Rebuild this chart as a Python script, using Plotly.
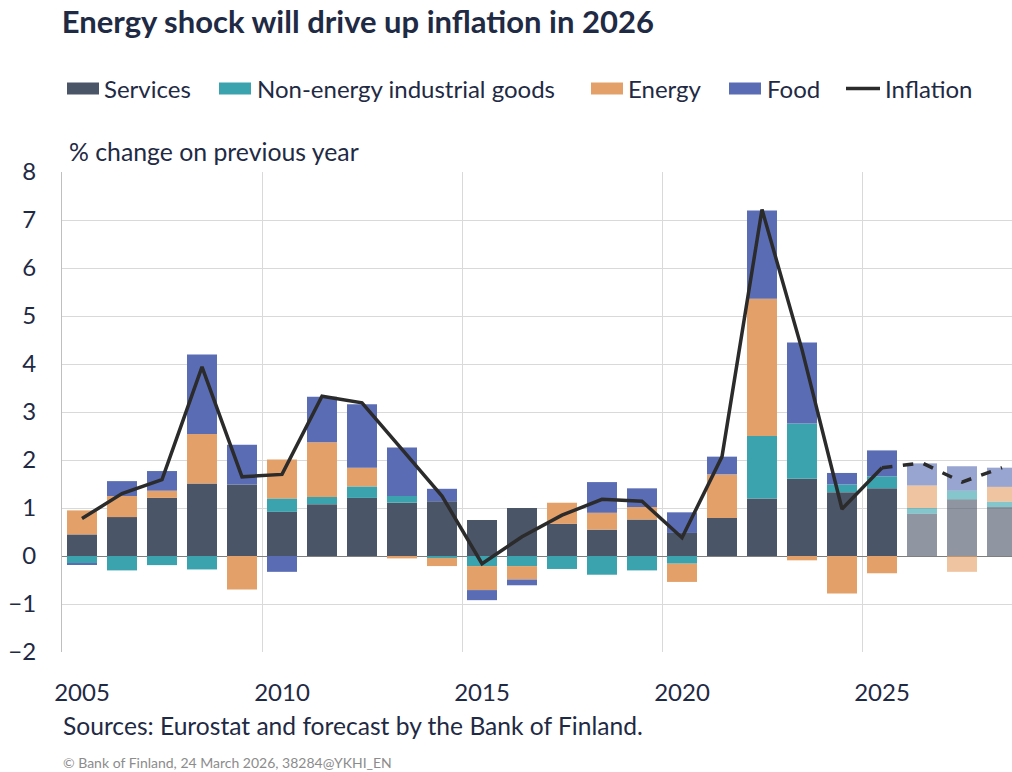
import plotly.graph_objects as go

years = list(range(2005, 2029))
services = [0.45, 0.81, 1.21, 1.51, 1.49, 0.92, 1.08, 1.21, 1.11, 1.14, 0.75, 1.00,
            0.67, 0.55, 0.76, 0.48, 0.79, 1.20, 1.61, 1.33, 1.41, 0.88, 1.18, 1.02]
non_energy = [-0.15, -0.30, -0.19, -0.28, 0.0, 0.28, 0.15, 0.24, 0.14, -0.04, -0.21, -0.21,
              -0.27, -0.39, -0.30, -0.16, 0.0, 1.30, 1.15, 0.16, 0.25, 0.12, 0.18, 0.11]
energy = [0.50, 0.44, 0.15, 1.03, -0.70, 0.81, 1.14, 0.39, -0.05, -0.17, -0.50, -0.28,
          0.44, 0.35, 0.26, -0.38, 0.91, 2.86, -0.09, -0.78, -0.36, 0.47, -0.33, 0.31]
food = [-0.03, 0.31, 0.41, 1.66, 0.83, -0.33, 0.95, 1.32, 1.01, 0.26, -0.21, -0.12,
        0.0, 0.64, 0.39, 0.43, 0.37, 1.84, 1.69, 0.24, 0.54, 0.46, 0.51, 0.40]
inflation = [0.78, 1.30, 1.59, 3.94, 1.65, 1.70, 3.33, 3.19, 2.22, 1.25, -0.16, 0.40,
             0.85, 1.18, 1.14, 0.38, 2.07, 7.22, 4.30, 0.98, 1.84, 1.94, 1.54, 1.84]
forecast_start = 2026

FONT = "Lato"
TXT = "#1F2A44"
LINE_COL = "#2B2B2B"
opac = [0.62 if y >= forecast_start else 1.0 for y in years]

series = [
    ("Services", services, "#4B5568"),
    ("Non-energy industrial goods", non_energy, "#3AA3AE"),
    ("Energy", energy, "#E3A068"),
    ("Food", food, "#5A6DB4"),
]

# plot area geometry (px) used to place the hand-drawn legend
W, H = 1012, 772
L, R, T, B = 62, 0, 172, 120
PW, PH = W - L - R, H - T - B


def px_x(px):
    return (px - L) / PW


def px_y(py):
    return (H - B - py) / PH


fig = go.Figure()
for name, vals, col in series:
    fig.add_trace(go.Bar(x=years, y=vals, name=name, width=0.75, showlegend=False,
                         marker=dict(color=col, opacity=opac, line=dict(width=0))))

hist_x = [y for y in years if y <= 2025]
hist_y = [v for y, v in zip(years, inflation) if y <= 2025]
fc_x = [y for y in years if y >= 2025]
fc_y = [v for y, v in zip(years, inflation) if y >= 2025]
fig.add_trace(go.Scatter(x=hist_x, y=hist_y, mode="lines", name="Inflation", showlegend=False,
                         line=dict(color=LINE_COL, width=3.5)))
fig.add_trace(go.Scatter(x=fc_x, y=fc_y, mode="lines", showlegend=False,
                         line=dict(color=LINE_COL, width=3.5, dash="dash")))

# legend (swatches + labels)
legend_items = [
    ("Services", "#4B5568", 67, 102),
    ("Non-energy industrial goods", "#3AA3AE", 219, 255),
    ("Energy", "#E3A068", 591, 626),
    ("Food", "#5A6DB4", 729, 765),
]
shapes = []
annotations = []
LY = 88.5
for name, col, sx, tx in legend_items:
    shapes.append(dict(type="rect", xref="paper", yref="paper",
                       x0=px_x(sx), x1=px_x(sx + 32), y0=px_y(LY + 6), y1=px_y(LY - 6),
                       fillcolor=col, line=dict(width=0)))
    annotations.append(dict(text=name, xref="paper", yref="paper", x=px_x(tx), y=px_y(LY),
                            xanchor="left", yanchor="middle", showarrow=False,
                            font=dict(family=FONT, size=24, color=TXT)))
shapes.append(dict(type="line", xref="paper", yref="paper",
                   x0=px_x(846), x1=px_x(880), y0=px_y(LY), y1=px_y(LY),
                   line=dict(color=LINE_COL, width=3.5)))
annotations.append(dict(text="Inflation", xref="paper", yref="paper", x=px_x(883), y=px_y(LY),
                        xanchor="left", yanchor="middle", showarrow=False,
                        font=dict(family=FONT, size=24, color=TXT)))

annotations += [
    dict(text="% change on previous year", xref="paper", yref="paper",
         x=px_x(67), y=px_y(152), xanchor="left", yanchor="middle", showarrow=False,
         font=dict(family=FONT, size=24.8, color=TXT)),
    dict(text="Sources: Eurostat and forecast by the Bank of Finland.", xref="paper",
         yref="paper", x=px_x(61), y=px_y(725), xanchor="left", yanchor="middle",
         showarrow=False, font=dict(family=FONT, size=24.6, color=TXT)),
    dict(text="© Bank of Finland, 24 March 2026, 38284@YKHI_EN", xref="paper",
         yref="paper", x=px_x(61), y=px_y(762), xanchor="left", yanchor="middle",
         showarrow=False, font=dict(family=FONT, size=14, color="#8C8C8C")),
]

fig.update_layout(
    width=W, height=H,
    barmode="relative", bargap=0.25,
    plot_bgcolor="white", paper_bgcolor="white",
    margin=dict(l=L, r=R, t=T, b=B, autoexpand=False),
    font=dict(family=FONT, size=24, color=TXT),
    showlegend=False,
    title=dict(text="<b>Energy shock will drive up inflation in 2026</b>",
               x=0.061, xanchor="left", y=0.971, yanchor="middle",
               font=dict(family=FONT, size=31, color=TXT)),
    xaxis=dict(range=[2004.5, 2028.25], tickvals=[2005, 2010, 2015, 2020, 2025],
               showgrid=False, zeroline=False, showline=False, ticks="",
               ticklabelstandoff=24,
               tickfont=dict(size=24, color=TXT),
               minor=dict(tickvals=[2004.5, 2009.5, 2014.5, 2019.5, 2024.5],
                          showgrid=True, gridcolor="#D9D9D9", gridwidth=1)),
    yaxis=dict(range=[-2, 8], dtick=1, showgrid=True, gridcolor="#D9D9D9", gridwidth=1,
               zeroline=True, zerolinecolor="#7F7F7F", zerolinewidth=1,
               showline=True, linecolor="#BFBFBF", linewidth=1, mirror=False,
               ticks="", ticklabelstandoff=20,
               tickfont=dict(size=24, color=TXT)),
    shapes=shapes,
    annotations=annotations,
)

fig.write_html("out.html", post_script="document.body.style.margin='0';",
               config={"displayModeBar": False})
